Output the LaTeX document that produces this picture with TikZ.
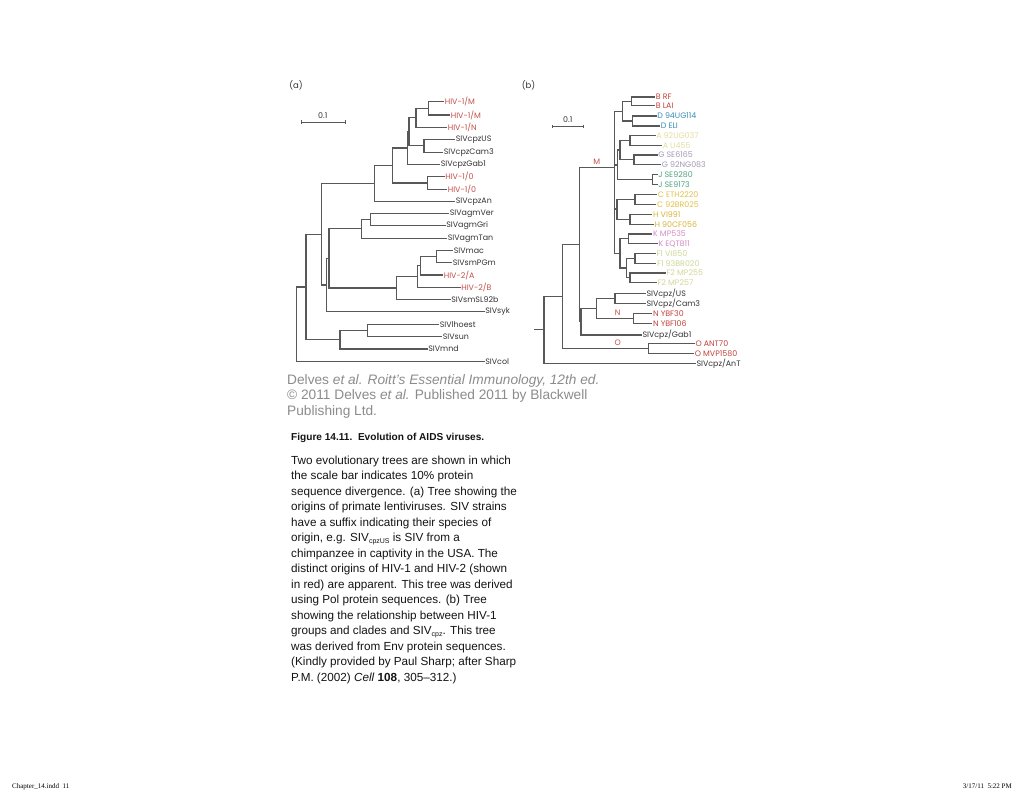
\documentclass[tikz,border=0pt]{standalone}
\usepackage{fontspec}
\setmainfont{Liberation Sans}
\newfontfamily\treefont{Poppins}
\newfontfamily\footfont{Liberation Serif}
\usetikzlibrary{arrows.meta}
\definecolor{linec}{HTML}{585858}
\definecolor{labc}{HTML}{333333}
\definecolor{hivred}{HTML}{C2504A}
\definecolor{cB}{HTML}{C0443C}
\definecolor{cD}{HTML}{3A8DB5}
\definecolor{cA}{HTML}{E6DDA0}
\definecolor{cG}{HTML}{A59AB5}
\definecolor{cJ}{HTML}{4DA57E}
\definecolor{cC}{HTML}{E2C24A}
\definecolor{cH}{HTML}{D9B43C}
\definecolor{cK}{HTML}{D68CC4}
\definecolor{cFa}{HTML}{CCD996}
\definecolor{cFb}{HTML}{D6D69A}
\definecolor{greytxt}{HTML}{8C8C8C}
\definecolor{bodytxt}{HTML}{141414}
\tikzset{
  br/.style={draw=linec, line width=1.1pt},
  lab/.style={anchor=west, inner sep=0.6pt, font=\treefont\fontsize{7.9}{8}\selectfont},
  panel/.style={inner sep=0pt, font=\treefont\fontsize{8.5}{9}\selectfont, text=labc},
  grey/.style={anchor=base west, inner sep=0pt, text=greytxt, font=\fontsize{13.7}{15}\selectfont},
  body/.style={anchor=base west, inner sep=0pt, text=bodytxt, font=\fontsize{11.7}{13}\selectfont},
  foot/.style={inner sep=0pt, font=\footfont\fontsize{7}{8}\selectfont, text=black},
  sbar/.style={draw=linec, line width=1pt, {Bar[width=3.5pt]}-{Bar[width=3.5pt]}}
}
\begin{document}
\begin{tikzpicture}[x=1pt,y=-1pt]
\useasboundingbox (0,0) rectangle (1024,793);
\fill[white] (0,0) rectangle (1024,793);

% ---------------- panel labels and scale bars
\node[panel] (pa) at (296,85) {(a)};
\node[panel] (pb) at (528.5,85) {(b)};
\coordinate (sa1) at (300.7,122); \coordinate (sa2) at (345.7,122);
\draw[sbar] (sa1) -- (sa2);
\node[panel,font=\treefont\fontsize{7.9}{8}\selectfont] (sal) at (322.7,115.5) {0.1};
\coordinate (sb1) at (551.7,126.7); \coordinate (sb2) at (584.3,126.7);
\draw[sbar] (sb1) -- (sb2);
\node[panel,font=\treefont\fontsize{7.9}{8}\selectfont] (sbl) at (567.7,119.5) {0.1};

% ---------------- tree (a)
\foreach \n/\y/\x/\t/\c in {
 a1/101.7/444/{HIV-1/M}/hivred, a2/115/450/{HIV-1/M}/hivred, a3/127.3/447/{HIV-1/N}/hivred,
 a4/139.3/455/SIVcpzUS/labc, a5/152.3/443/SIVcpzCam3/labc, a6/164.3/440/SIVcpzGab1/labc,
 a7/176.7/444.5/{HIV-1/0}/hivred, a8/189.3/447/{HIV-1/0}/hivred, a9/201.7/455/SIVcpzAn/labc,
 a10/213.3/449/SIVagmVer/labc, a11/225.3/445.5/SIVagmGri/labc, a12/238.3/447/SIVagmTan/labc,
 a13/250.7/453/SIVmac/labc, a14/262.7/452/SIVsmPGm/labc, a15/275/443/{HIV-2/A}/hivred,
 a16/287.3/460.5/{HIV-2/B}/hivred, a17/299.3/450.5/SIVsmSL92b/labc, a18/311.7/484.5/SIVsyk/labc,
 a19/324.3/439/SIVlhoest/labc, a20/336.7/442/SIVsun/labc, a21/349/427.5/SIVmnd/labc,
 a22/361.7/484.5/SIVcol/labc}{
  \coordinate (\n) at (\x,\y);
  \node[lab,text=\c] (\n-t) at (\n) {\t};
}
\coordinate (iMM) at (428.3,108.3);
\coordinate (iMN) at (416,117.8);
\coordinate (iUC) at (424,145.8);
\coordinate (iX1) at (409,131.8);
\coordinate (iX2) at (407.5,148);
\coordinate (iOO) at (427.7,183);
\coordinate (iX3) at (392.3,165.5);
\coordinate (iX4) at (374.3,183.6);
\coordinate (iVG) at (370.7,219.3);
\coordinate (iAG) at (361.7,228.8);
\coordinate (iMP) at (436.7,256.7);
\coordinate (iH2A) at (420.7,265.8);
\coordinate (iH2B) at (417.7,276.5);
\coordinate (iSM) at (396.5,288);
\coordinate (iN1) at (329,258.4);
\coordinate (iN2) at (326.7,285);
\coordinate (iN3) at (321.7,234.3);
\coordinate (iLS) at (367.7,330.5);
\coordinate (iLM) at (340,339.7);
\coordinate (iN4) at (306,287);
\coordinate (iR) at (296.7,324.3);
\foreach \p/\c in {iMM/a1, iMM/a2, iMN/iMM, iMN/a3, iUC/a4, iUC/a5, iX1/iMN, iX1/iUC,
 iX2/iX1, iX2/a6, iOO/a7, iOO/a8, iX3/iX2, iX3/iOO, iX4/iX3, iX4/a9, iVG/a10, iVG/a11,
 iAG/iVG, iAG/a12, iMP/a13, iMP/a14, iH2A/iMP, iH2A/a15, iH2B/iH2A, iH2B/a16, iSM/iH2B,
 iSM/a17, iN1/iAG, iN1/iSM, iN2/iN1, iN2/a18, iN3/iX4, iN3/iN2, iLS/a19, iLS/a20,
 iLM/iLS, iLM/a21, iN4/iN3, iN4/iLM, iR/iN4, iR/a22}{
  \draw[br] (\p) |- (\c);
}

% ---------------- tree (b)
\foreach \n/\y/\x/\t/\c in {
 b1/97/655/{B RF}/cB, b2/105.7/655/{B LAI}/cB, b3/116/656.5/{D 94UG114}/cD, b4/126/660/{D ELI}/cD,
 b5/135.3/655.5/{A 92UG037}/cA, b6/145.3/662/{A U455}/cA, b7/155/657.5/{G SE6165}/cG,
 b8/164.7/661/{G 92NG083}/cG, b9/174.7/657.5/{J SE9280}/cJ, b10/184.3/657.5/{J SE9173}/cJ,
 b11/194.3/657/{C ETH2220}/cC, b12/204.5/656.3/{C 92BR025}/cC, b13/214.5/652.3/{H VI991}/cH,
 b14/224.3/653.7/{H 90CF056}/cH, b15/234/652.3/{K MP535}/cK, b16/243.7/657.7/{K EQTB11}/cK,
 b17/253.7/655.7/{F1 VI850}/cFa, b18/263.3/656.3/{F1 93BR020}/cFa, b19/273/665.7/{F2 MP255}/cFb,
 b20/282.7/656.7/{F2 MP257}/cFb, b21/293.3/645.7/{SIVcpz/US}/labc, b22/303.3/645.7/{SIVcpz/Cam3}/labc,
 b23/313.3/652.3/{N YBF30}/cB, b24/323.3/652.3/{N YBF106}/cB, b25/335/641.7/{SIVcpz/Gab1}/labc,
 b26/343.3/694.7/{O ANT70}/cB, b27/353.7/694/{O MVP1580}/cB, b28/363.3/695.7/{SIVcpz/AnT}/labc}{
  \coordinate (\n) at (\x,\y);
  \node[lab,text=\c] (\n-t) at (\n) {\t};
}
\coordinate (jB) at (631.7,101.3);
\coordinate (jD) at (632.3,121);
\coordinate (jBD) at (622.3,111.2);
\coordinate (jA) at (630,140.3);
\coordinate (jG) at (634,159.9);
\coordinate (jAG) at (620,150);
\coordinate (jJ) at (652.7,179.5);
\coordinate (jAGJ) at (617.3,165);
\coordinate (jC) at (635,199.4);
\coordinate (jH) at (630,219.4);
\coordinate (jCH) at (617,209);
\coordinate (jK) at (628.3,238.8);
\coordinate (jF1) at (635,258.5);
\coordinate (jF2) at (630,277.8);
\coordinate (jF) at (626.7,268);
\coordinate (jKF) at (620,253.4);
\coordinate (jM) at (614.3,167.7);
\coordinate (jUC) at (615,298.3);
\coordinate (jN) at (633.3,318.3);
\coordinate (jNU) at (596.7,308.3);
\coordinate (jG1) at (581,321.7);
\coordinate (jMM) at (579.3,244.5);
\coordinate (jO) at (648.3,348.5);
\coordinate (jMO) at (562.3,296.5);
\coordinate (jR) at (544,329.9);
\coordinate (jStub) at (534,329.9);
\foreach \p/\c in {jB/b1, jB/b2, jD/b3, jD/b4, jBD/jB, jBD/jD, jA/b5, jA/b6, jG/b7, jG/b8,
 jAG/jA, jAG/jG, jJ/b9, jJ/b10, jAGJ/jAG, jAGJ/jJ, jC/b11, jC/b12, jH/b13, jH/b14, jCH/jC,
 jCH/jH, jK/b15, jK/b16, jF1/b17, jF1/b18, jF2/b19, jF2/b20, jF/jF1, jF/jF2, jKF/jK, jKF/jF,
 jM/jBD, jM/jAGJ, jM/jCH, jM/jKF, jUC/b21, jUC/b22, jN/b23, jN/b24, jNU/jUC, jNU/jN,
 jG1/jNU, jG1/b25, jMM/jM, jMM/jG1, jO/b26, jO/b27, jMO/jMM, jMO/jO, jR/jMO, jR/b28}{
  \draw[br] (\p) |- (\c);
}
\draw[br] (jStub) -- (jR);
\node[lab,anchor=center,text=hivred] (gM) at (596.7,161.5) {M};
\node[lab,anchor=center,text=hivred] (gN) at (617.7,312.3) {N};
\node[lab,anchor=center,text=hivred] (gO) at (617.7,342.3) {O};

% ---------------- credit and caption
\node[grey] (c1) at (287,384) {Delves \textit{et al. Roitt's Essential Immunology, 12th ed.}};
\node[grey] (c2) at (287,399.5) {© 2011 Delves \textit{et al.} Published 2011 by Blackwell};
\node[grey] (c3) at (287,415) {Publishing Ltd.};
\node[body,font=\bfseries\fontsize{10.1}{12}\selectfont] (ttl) at (291,440) {Figure 14.11.\ \ Evolution of AIDS viruses.};
\node[body] (l1) at (291,464) {Two evolutionary trees are shown in which};
\node[body] (l2) at (291,479.5) {the scale bar indicates 10\% protein};
\node[body] (l3) at (291,495) {sequence divergence. (a) Tree showing the};
\node[body] (l4) at (291,510.5) {origins of primate lentiviruses. SIV strains};
\node[body] (l5) at (291,526) {have a suffix indicating their species of};
\node[body] (l6) at (291,541.5) {origin, e.g. SIV\raisebox{-1.8pt}{\fontsize{7}{7}\selectfont cpzUS} is SIV from a};
\node[body] (l7) at (291,557) {chimpanzee in captivity in the USA. The};
\node[body] (l8) at (291,572.5) {distinct origins of HIV-1 and HIV-2 (shown};
\node[body] (l9) at (291,588) {in red) are apparent. This tree was derived};
\node[body] (l10) at (291,603.5) {using Pol protein sequences. (b) Tree};
\node[body] (l11) at (291,619) {showing the relationship between HIV-1};
\node[body] (l12) at (291,634.5) {groups and clades and SIV\raisebox{-1.8pt}{\fontsize{7}{7}\selectfont cpz}. This tree};
\node[body] (l13) at (291,650) {was derived from Env protein sequences.};
\node[body] (l14) at (291,665.5) {(Kindly provided by Paul Sharp; after Sharp};
\node[body] (l15) at (291,681) {P.M. (2002) \textit{Cell} \textbf{108}, 305–312.)};

% ---------------- footer
\node[foot,anchor=base west] (f1) at (12,788.5) {Chapter\_14.indd\ \ 11};
\node[foot,anchor=base east] (f2) at (1012,788.5) {3/17/11\ \ 5:22 PM};
\end{tikzpicture}
\end{document}
